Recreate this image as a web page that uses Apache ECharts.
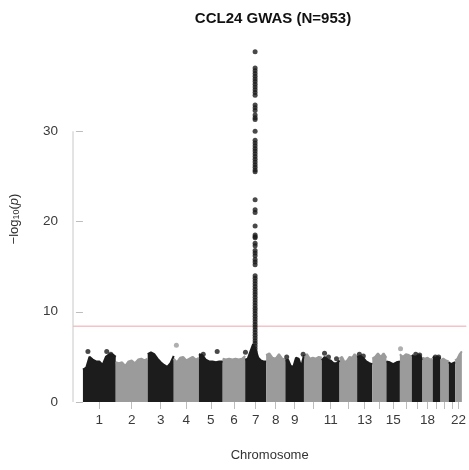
<!DOCTYPE html>
<html>
<head>
<meta charset="utf-8">
<script src="https://cdn.jsdelivr.net/npm/echarts@6/dist/echarts.min.js"></script>
<style>html,body{margin:0;padding:0;background:#fff}#c{width:469px;height:470px}</style>
</head>
<body>
<div id="c"></div>
<script>
// ---------- data ----------
const chrNames = ['1','2','3','4','5','6','7','8','9','10','11','12','13','14','15','16','17','18','19','20','21','22'];
const chrLengths = [249.25,243.2,198.0,191.15,180.9,171.1,159.1,146.4,141.2,135.5,135.0,133.9,115.2,107.3,102.5,90.4,81.2,78.1,59.1,63.0,48.1,51.3];
const xTickLabels = ['1','2','3','4','5','6','7','8','9','','11','','13','','15','','','18','','','','22'];
// top of the dense -log10(p) band, evenly spaced along each chromosome
const env1 = [3.6,3.8,5.0,4.7,4.5,4.5,4.1,5.0,5.3,5.3,5.0];
const env2 = [4.4,4.3,4.4,4.0,4.5,4.6,4.3,4.7,4.8,4.6,4.8];
const env3 = [5.3,5.5,5.3,4.8,4.4,4.1,3.9,4.3,5.1];
const env4 = [4.8,4.4,4.9,5.0,4.6,4.8,5.0,4.7,4.9];
const env5 = [5.3,5.2,4.7,4.5,4.5,4.4,4.5,4.5];
const env6 = [4.8,4.7,4.8,4.7,4.8,4.7,4.8,5.1];
const env7 = [4.7,4.8,5.6,6.4,5.8,4.9,4.6,4.5,4.5];
const env8 = [5.2,5.4,4.9,4.8,5.3,4.8,4.7];
const env9 = [4.6,4.7,4.0,3.9,4.9,4.8,3.9,5.2];
const env10 = [5.0,5.3,4.8,4.9,4.8,5.0,4.9];
const env11 = [4.6,5.0,4.7,4.6,4.3,4.3,4.6];
const env12 = [4.8,5.0,4.4,4.6,5.0,4.9,5.3,5.0];
const env13 = [5.0,5.1,4.9,4.5,4.3,4.2];
const env14 = [4.8,5.0,5.4,5.0,5.4,4.9];
const env15 = [4.5,4.4,4.2,4.4,4.5];
const env16 = [5.3,5.0,5.3,5.2,5.0];
const env17 = [5.2,5.0,5.1,5.2,4.7];
const env18 = [4.9,4.8,4.9,4.7,4.8];
const env19 = [5.0,4.9,5.0,4.8];
const env20 = [4.6,4.8,4.6,4.5];
const env21 = [4.4,4.2,4.3,4.4];
const env22 = [4.6,4.8,5.3,5.6];
const envelopes = [env1,env2,env3,env4,env5,env6,env7,env8,env9,env10,env11,env12,env13,env14,env15,env16,env17,env18,env19,env20,env21,env22];
// isolated SNPs above the band: chromosome, position (Mb), -log10(p)
const hitChr = [1,1,1,4,5,5,7,9,9,11,11,11,13,13,16,17,17,19,19];
const hitPos = [38,181,212,20,33,139,2,10,135,21,51,112,17,47,5,30,60,20,45];
const hitVal = [5.6,5.6,5.3,6.3,5.3,5.6,5.5,5.0,5.3,5.4,5.0,4.8,5.3,5.1,5.9,5.3,5.2,5.0,5.0];
// CCL24 locus on chromosome 7
const peakChr = 7;
const peakPos = 75.4;
const peakVals = [38.8,37.0,36.7,36.4,36.1,35.8,35.5,35.2,34.9,34.6,34.3,34.0,32.9,32.6,32.3,31.8,31.5,31.3,30.0,
  29.0,28.7,28.4,28.1,27.8,27.5,27.2,26.9,26.6,26.3,26.0,25.7,25.5,22.4,21.3,21.0,19.5,18.3,
  18.5,18.2,17.6,17.3,16.8,16.5,16.2,15.8,15.5,15.2,
  14.0,13.7,13.4,13.1,12.8,12.5,12.2,11.9,11.6,11.3,11.0,10.7,10.4,10.1,9.8,9.5,9.2,8.9,8.6,8.3,8.0,7.7,7.4,7.1,6.8,6.5,6.2,5.9,5.6,5.3,5.0];
const threshold = 8.4;
const yTicks = [0,10,20,30];

// ---------- layout ----------
const BLACK = '#1c1c1c', GRAY = '#9b9b9b';
const offsets = [];
let acc = 0;
chrLengths.forEach(l => { offsets.push(acc); acc += l; });
const total = acc;
const centers = chrLengths.map((l,i) => offsets[i] + l/2);
const xMin = -75.5, xMax = total + 34;

const series = [];
envelopes.forEach((env, i) => {
  const n = env.length, c = i % 2 === 0 ? BLACK : GRAY;
  series.push({
    type: 'line', symbol: 'none', silent: true, animation: false,
    data: env.map((h, j) => [offsets[i] + chrLengths[i] * j / (n - 1), h]),
    lineStyle: { color: c, width: 2 },
    areaStyle: { color: c, opacity: 1 },
    z: 2
  });
});
series.push({
  type: 'scatter', silent: true, animation: false, symbolSize: 5, z: 3,
  data: hitChr.map((ch, k) => ({ value: [offsets[ch-1] + hitPos[k], hitVal[k]],
    itemStyle: { color: (ch % 2 === 1) ? BLACK : GRAY } }))
});
series.push({
  type: 'scatter', silent: true, animation: false, symbolSize: 5, z: 3,
  itemStyle: { color: BLACK },
  data: peakVals.map(v => [offsets[peakChr-1] + peakPos, v])
});
// threshold
series.push({
  type: 'line', symbol: 'none', silent: true, animation: false, z: 1,
  data: [[xMin, threshold], [xMax, threshold]],
  lineStyle: { color: '#f3c3c7', width: 1.5 }
});
// y axis line (R style, from first to last tick)
series.push({
  type: 'line', symbol: 'none', silent: true, animation: false, clip: false, z: 1,
  data: [[xMin, yTicks[0]], [xMin, yTicks[yTicks.length-1]]],
  lineStyle: { color: '#c8c8c8', width: 1 }
});

const chart = echarts.init(document.getElementById('c'), null, { renderer: 'canvas' });
chart.setOption({
  animation: false,
  backgroundColor: '#fff',
  textStyle: { fontFamily: 'Liberation Sans, Arial, sans-serif' },
  grid: { left: 73, right: 0, top: 41, bottom: 68, containLabel: false },
  xAxis: {
    type: 'value', min: xMin, max: xMax, offset: 3,
    axisLine: { show: false },
    splitLine: { show: false },
    axisTick: { show: true, length: 7, customValues: centers, lineStyle: { color: '#bdbdbd' } },
    axisLabel: {
      customValues: centers, margin: 8, fontSize: 13.5, color: '#3a3a3a',
      formatter: v => { const i = centers.findIndex(c => Math.abs(c - v) < 0.5); return i >= 0 ? xTickLabels[i] : ''; }
    },
    name: 'Chromosome', nameLocation: 'middle', nameGap: 44,
    nameTextStyle: { fontSize: 13, color: '#333' }
  },
  yAxis: {
    type: 'value', min: 0, max: 40, interval: 10,
    axisLine: { show: false },
    splitLine: { show: false },
    axisTick: { show: true, length: 7, customValues: yTicks, lineStyle: { color: '#bdbdbd' } },
    axisLabel: { customValues: yTicks, margin: 15, fontSize: 13.5, color: '#3a3a3a' }
  },
  graphic: [
    { type: 'text', x: 273, y: 19, silent: true,
      style: { text: 'CCL24 GWAS (N=953)', fill: '#111', font: 'bold 15px "Liberation Sans", Arial, sans-serif',
               align: 'center', verticalAlign: 'middle' } },
    { type: 'text', x: 14, y: 219, rotation: Math.PI / 2, silent: true,
      style: { text: '\u2212log{sub|10}({it|p})', fill: '#333', font: '13px "Liberation Sans", Arial, sans-serif',
               align: 'center', verticalAlign: 'middle',
               rich: { sub: { fontSize: 9, verticalAlign: 'bottom', padding: [5,0,0,0], fill: '#333' },
                       it: { fontStyle: 'italic', fontSize: 13, fill: '#333' } } } }
  ],
  series: series
});
</script>
</body>
</html>
